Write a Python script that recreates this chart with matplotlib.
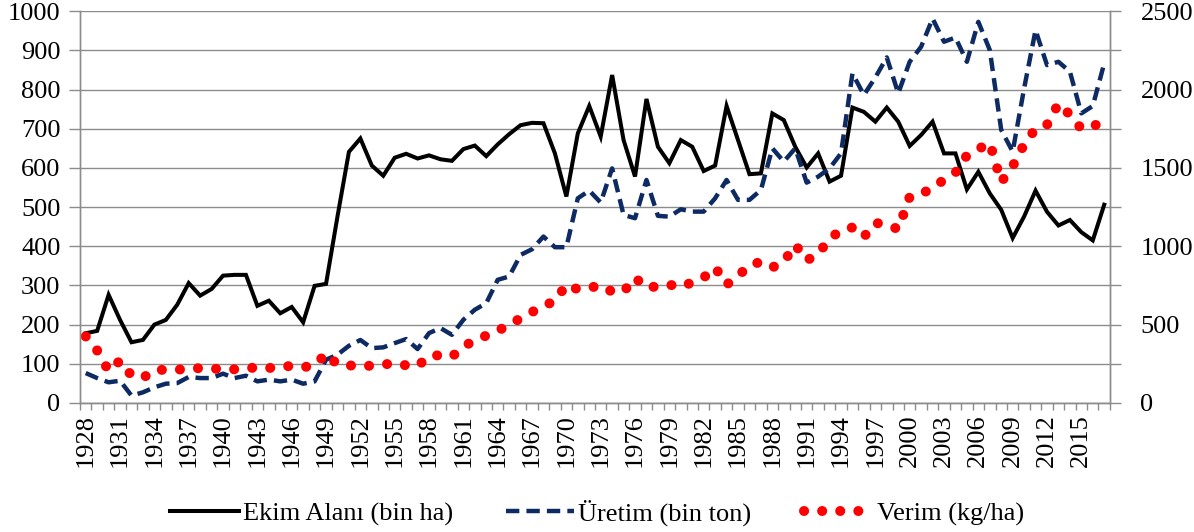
import numpy as np
import matplotlib
matplotlib.use("Agg")
import matplotlib.pyplot as plt
from matplotlib.ticker import MultipleLocator, FixedLocator

plt.rcParams['font.family'] = ['Liberation Serif', 'DejaVu Serif']

years = list(range(1928, 2018))

# Ekim Alanı (bin ha) - left axis
ekim = [178, 184, 276, 212, 155, 161, 200, 212, 251, 306,
        274, 291, 325, 327, 327, 248, 261, 229, 245, 206,
        299, 304, 476, 641, 675, 606, 580, 626, 636, 624,
        632, 622, 618, 648, 657, 630, 660, 686, 709, 715,
        714, 637, 527, 688, 758, 680, 837, 671, 578, 776,
        654, 612, 671, 654, 592, 606, 758, 671, 584, 586,
        739, 722, 654, 601, 637, 565, 580, 754, 743, 718,
        754, 718, 656, 684, 718, 637, 637, 545, 590, 535,
        493, 421, 476, 542, 488, 453, 467, 436, 415, 506]

# Üretim (bin ton) - right axis
uretim = [191, 159, 132, 142, 47, 68, 100, 123, 127, 166,
          159, 159, 187, 159, 174, 138, 149, 138, 149, 123,
          138, 276, 308, 365, 402, 350, 355, 382, 408, 344,
          446, 478, 435, 531, 595, 637, 786, 807, 945, 981,
          1062, 994, 994, 1306, 1355, 1279, 1497, 1200, 1179, 1423,
          1194, 1189, 1236, 1221, 1221, 1306, 1423, 1296, 1296, 1359,
          1625, 1540, 1625, 1406, 1444, 1497, 1593, 2103, 1965, 2077,
          2205, 1976, 2177, 2273, 2453, 2305, 2332, 2177, 2432, 2252,
          1742, 1604, 2007, 2379, 2156, 2177, 2114, 1848, 1895, 2167]

# Verim (kg/ha) - right axis
verim = [425, 335, 205, 270, 175, 160, 210, 212, 212, 220,
         222, 220, 215, 215, 220, 228, 223, 230, 237, 228,
         240, 315, 245, 240, 235, 238, 245, 255, 240, 235,
         300, 305, 295, 360, 400, 430, 460, 500, 540, 580,
         620, 650, 755, 725, 735, 750, 710, 710, 800, 735,
         745, 755, 740, 770, 800, 865, 755, 810, 880, 900,
         865, 900, 1010, 910, 950, 1050, 1100, 1120, 1060, 1150,
         1135, 1110, 1315, 1335, 1370, 1425, 1470, 1580, 1620, 1660,
         1410, 1510, 1650, 1750, 1775, 1910, 1840, 1750, 1765, 1800]

xlabels = list(range(1928, 2016, 3))

grey = '#8c8c8c'

fig = plt.figure(figsize=(11.94, 5.32), dpi=100)
ax = fig.add_axes([0.067, 0.2425, 0.8626, 0.7365])
ax2 = ax.twinx()

l1, = ax.plot(years, ekim, color='black', lw=2.9, solid_joinstyle='miter',
              label='Ekim Alanı (bin ha)')
l2, = ax2.plot(years, uretim, color='#0d2a63', lw=3.2, dashes=(3, 1.6),
               label='Üretim (bin ton)')
l3, = ax2.plot(years, verim, color='#ff0000', lw=7.2, dashes=(0.01, 1.8),
               dash_capstyle='round', label='Verim (kg/ha)')

ax.set_xlim(1927.5, 2017.5)
ax.set_ylim(0, 1000)
ax2.set_ylim(0, 2500)

ax.yaxis.set_major_locator(MultipleLocator(100))
ax.grid(axis='y', color=grey, lw=1)
ax.set_axisbelow(True)

ax.xaxis.set_major_locator(FixedLocator(xlabels))
ax.set_xticklabels([str(y) for y in xlabels], rotation=90)
ax.xaxis.set_minor_locator(FixedLocator(np.arange(1927.5, 2018, 1)))
ax.tick_params(axis='x', which='major', length=0, pad=8, labelsize=19)
ax.tick_params(axis='x', which='minor', length=5, color=grey, width=1)
ax.tick_params(axis='y', length=8, color=grey, width=1, labelsize=19, pad=6)

ax2.yaxis.set_major_locator(MultipleLocator(500))
ax2.yaxis.set_minor_locator(MultipleLocator(250))
ax2.tick_params(axis='y', which='both', length=8, color=grey, width=1)
ax2.tick_params(axis='y', which='major', labelsize=19, pad=14)

for a in (ax, ax2):
    a.spines['top'].set_visible(False)
    for s in ('left', 'right', 'bottom'):
        a.spines[s].set_color(grey)
        a.spines[s].set_linewidth(1)

fig.legend(handles=[l1, l2, l3], loc='center', bbox_to_anchor=(0.5, 0.036),
           ncol=3, frameon=False, fontsize=19, handlelength=2.6,
           handletextpad=0.15, columnspacing=2.0)

fig.savefig('out.png', dpi=100)
